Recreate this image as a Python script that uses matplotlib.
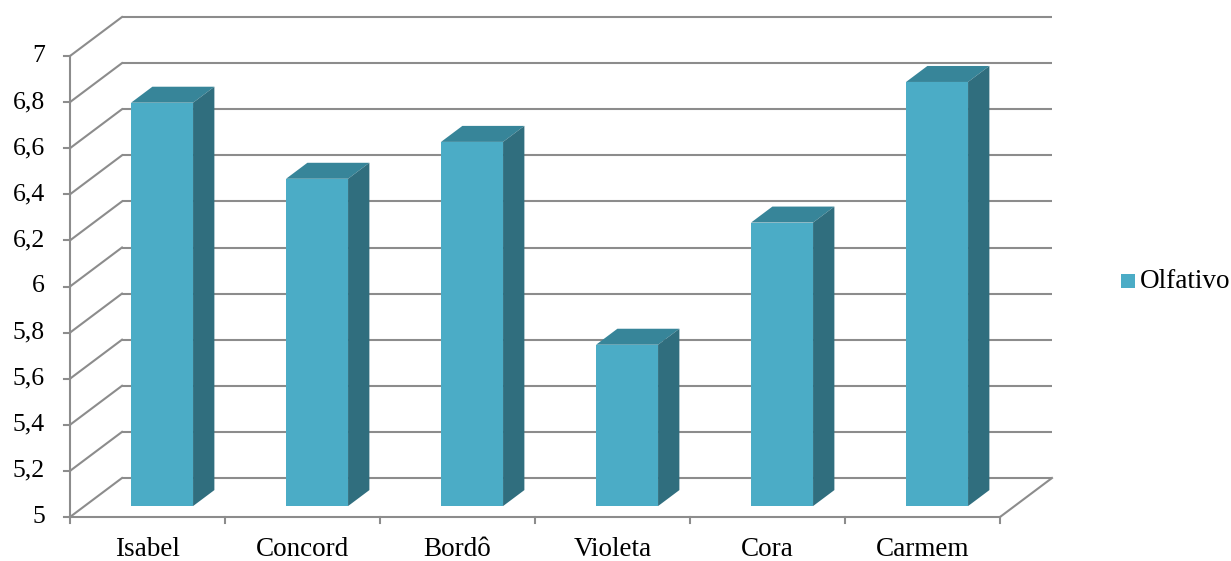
import matplotlib.pyplot as plt
import numpy as np
from matplotlib.patches import Polygon, Rectangle

# dados
categorias = ["Isabel", "Concord", "Bordô", "Violeta", "Cora", "Carmem"]
olfativo = [6.75, 6.42, 6.58, 5.70, 6.23, 6.84]
y_ticks = [5, 5.2, 5.4, 5.6, 5.8, 6, 6.2, 6.4, 6.6, 6.8, 7]
y_labels = ["5", "5,2", "5,4", "5,6", "5,8", "6", "6,2", "6,4", "6,6", "6,8", "7"]

# cores e estilo
cor_frente = "#4BACC6"
cor_topo = "#378599"
cor_lado = "#306E7E"
cor_grade = "#8C8C8C"
fonte = "Liberation Serif"

W, H = 1231, 561
fig = plt.figure(figsize=(W / 100, H / 100), dpi=100)
# plano frontal: x 70..1000 px, y 56..517 px
ax = fig.add_axes([70 / W, (H - 517) / H, 930 / W, 461 / H])
ax.set_xlim(0, len(categorias))
ax.set_ylim(5, 7)
ax.axis("off")

# profundidade em unidades de dados (52 px para a direita, 39 px para cima)
px_x = len(categorias) / 930
px_y = 2 / 461
DX, DY = 52 * px_x, 39 * px_y
n = len(categorias)

lw = 1.5
# parede do fundo e parede lateral
for v in y_ticks:
    ax.plot([DX, n + DX], [v + DY, v + DY], color=cor_grade, lw=lw, clip_on=False, zorder=1,
            solid_capstyle="butt")
    ax.plot([0, DX], [v, v + DY], color=cor_grade, lw=lw, clip_on=False, zorder=1)
# piso
ax.plot([n, n + DX], [5, 5 + DY], color=cor_grade, lw=lw, clip_on=False, zorder=1)
ax.plot([0, n], [5, 5], color=cor_grade, lw=lw, clip_on=False, zorder=5)
# eixo vertical
ax.plot([0, 0], [5, 7], color=cor_grade, lw=lw, clip_on=False, zorder=5)

# marcas
tick_y = 6 * px_y
tick_x = 6 * px_x
for v, lab in zip(y_ticks, y_labels):
    ax.plot([-tick_x, 0], [v, v], color=cor_grade, lw=lw, clip_on=False, zorder=5)
    ax.text(-25 * px_x, v, lab, ha="right", va="center", fontsize=18.5, family=fonte,
            clip_on=False)
for i in range(n + 1):
    ax.plot([i, i], [5, 5 - tick_y], color=cor_grade, lw=lw, clip_on=False, zorder=5)
for i, c in enumerate(categorias):
    ax.text(i + 0.5, 5 - 32 * px_y, c, ha="center", va="center", fontsize=19.5, family=fonte,
            clip_on=False)

# barras 3D
f1, f2 = 0.28, 0.69
larg = 0.4
for i, v in enumerate(olfativo):
    x0 = i + 0.5 - larg / 2 + f1 * DX
    x1 = x0 + larg
    yb = 5 + f1 * DY
    yt = v + f1 * DY
    ddx = (f2 - f1) * DX
    ddy = (f2 - f1) * DY
    frente = Rectangle((x0, yb), larg, v - 5, facecolor=cor_frente, edgecolor="none",
                       zorder=3, clip_on=False)
    topo = Polygon([(x0, yt), (x1, yt), (x1 + ddx, yt + ddy), (x0 + ddx, yt + ddy)],
                   closed=True, facecolor=cor_topo, edgecolor="none", zorder=3, clip_on=False)
    lado = Polygon([(x1, yb), (x1 + ddx, yb + ddy), (x1 + ddx, yt + ddy), (x1, yt)],
                   closed=True, facecolor=cor_lado, edgecolor="none", zorder=3, clip_on=False)
    for p in (frente, topo, lado):
        ax.add_patch(p)

# legenda
fig.patches.append(Rectangle((1121 / W, (H - 288) / H), 14 / W, 14 / H, facecolor=cor_frente,
                             edgecolor="none", transform=fig.transFigure))
fig.text(1140 / W, (H - 282) / H, "Olfativo", ha="left", va="center", fontsize=19.5,
         family=fonte)

fig.savefig("out.png", dpi=100)
